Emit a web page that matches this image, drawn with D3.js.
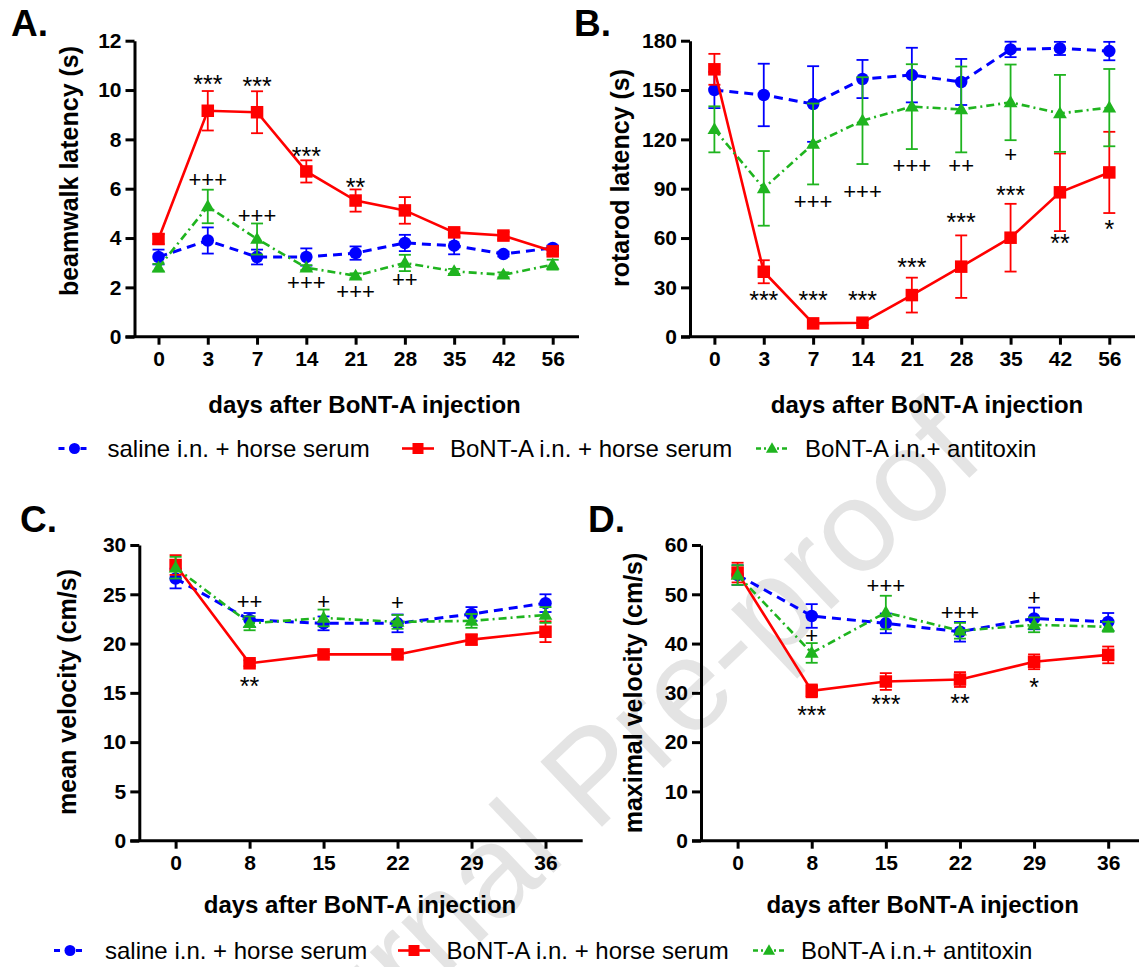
<!DOCTYPE html>
<html>
<head>
<meta charset="utf-8">
<script src="https://cdn.jsdelivr.net/npm/d3@7"></script>
<style>
  html, body { margin: 0; padding: 0; background: #ffffff; }
  svg { display: block; }
</style>
</head>
<body>
<div id="chart"></div>
<script>
// ---------------- DATA ----------------
const daysAB = ["0", "3", "7", "14", "21", "28", "35", "42", "56"];
const daysCD = ["0", "8", "15", "22", "29", "36"];
const seriesNames = ["saline i.n. + horse serum", "BoNT-A i.n. + horse serum", "BoNT-A i.n.+ antitoxin"];

// A. beamwalk latency (s)
const beamSaline    = [3.23, 3.9, 3.23, 3.23, 3.39, 3.8, 3.69, 3.35, 3.6];
const beamSalineErr = [0.3, 0.53, 0.3, 0.35, 0.27, 0.33, 0.35, 0.1, 0.1];
const beamBoNT      = [3.96, 9.16, 9.1, 6.7, 5.52, 5.12, 4.23, 4.1, 3.46];
const beamBoNTErr   = [0.2, 0.8, 0.85, 0.45, 0.45, 0.54, 0.15, 0.15, 0.1];
const beamAnti      = [2.8, 5.28, 3.96, 2.8, 2.47, 2.99, 2.65, 2.51, 2.92];
const beamAntiErr   = [0.15, 0.68, 0.63, 0.1, 0.1, 0.33, 0.1, 0.1, 0.2];

// B. rotarod latency (s)
const rotaSaline    = [150, 147, 141.5, 156.7, 159.1, 154.9, 174.7, 175.3, 173.7];
const rotaSalineErr = [11, 19, 23, 11.6, 16.6, 14, 4.7, 4, 5.6];
const rotaBoNT      = [162.6, 39.5, 8.1, 8.5, 25.3, 42.6, 60.2, 87.8, 99.9];
const rotaBoNTErr   = [9.4, 7, 1.5, 1.5, 10.6, 19, 20.6, 23.6, 24.7];
const rotaAnti      = [126.1, 90.2, 117.2, 131.4, 139.9, 138.2, 142.5, 135.8, 139.3];
const rotaAntiErr   = [14, 22.7, 24.6, 26.4, 25.8, 26.1, 23, 23.4, 23.5];

// C. mean velocity (cm/s)
const meanSaline    = [26.6, 22.4, 22.05, 22.05, 23.0, 24.1];
const meanSalineErr = [1.0, 0.7, 0.7, 0.9, 0.7, 0.9];
const meanBoNT      = [27.97, 18.0, 18.9, 18.9, 20.4, 21.2];
const meanBoNTErr   = [1.0, 0.3, 0.3, 0.3, 0.5, 1.05];
const meanAnti      = [27.7, 22.05, 22.6, 22.2, 22.3, 22.9];
const meanAntiErr   = [1.1, 0.7, 0.85, 0.7, 0.7, 0.8];

// D. maximal velocity (cm/s)
const maxSaline     = [53.9, 45.6, 44.1, 42.4, 45.1, 44.4];
const maxSalineErr  = [2, 2.4, 2, 2, 2.2, 1.8];
const maxBoNT       = [54.4, 30.4, 32.3, 32.7, 36.3, 37.7];
const maxBoNTErr    = [2, 1.3, 1.7, 1.5, 1.5, 1.7];
const maxAnti       = [53.9, 38.1, 46.3, 42.6, 43.8, 43.4];
const maxAntiErr    = [2, 2, 3.4, 1.6, 1.5, 1];

// tick labels
const yTicksA = [0, 2, 4, 6, 8, 10, 12];
const yTicksB = [0, 30, 60, 90, 120, 150, 180];
const yTicksC = [0, 5, 10, 15, 20, 25, 30];
const yTicksD = [0, 10, 20, 30, 40, 50, 60];

// significance marks: day, value (data units, visual centre), text
const marksA = [["3", 10.4, "***"], ["7", 10.32, "***"], ["14", 7.45, "***"], ["21", 6.23, "**"],
                ["3", 6.39, "+++"], ["7", 4.93, "+++"], ["14", 2.18, "+++"], ["21", 1.82, "+++"], ["28", 2.3, "++"]];
const marksB = [["3", 24.3, "***"], ["7", 24.3, "***"], ["14", 24.3, "***"], ["21", 44.6, "***"],
                ["28", 72, "***"], ["35", 88.2, "***"], ["42", 59.2, "**"], ["56", 67.9, "*"],
                ["7", 82.5, "+++"], ["14", 88.6, "+++"], ["21", 104, "+++"], ["28", 104, "++"], ["35", 110.5, "+"]];
const marksC = [["8", 24.3, "++"], ["15", 24.3, "+"], ["22", 24.15, "+"], ["8", 16.1, "**"]];
const marksD = [["15", 51.7, "+++"], ["22", 46.3, "+++"], ["29", 49.4, "+"], ["8", 41.6, "+"],
                ["8", 26.2, "***"], ["15", 28.4, "***"], ["22", 28.7, "**"], ["29", 31.9, "*"]];

// ---------------- STYLE / LAYOUT ----------------
const FONT = "'Liberation Sans', Arial, Helvetica, sans-serif";
const COLORS = ["#0000ff", "#ff0000", "#1fb41f"];
const DASH = ["9,6", null, "8,4,2,4"];
const LW = [3, 2.6, 2.6];
const SHAPES = ["circle", "square", "triangle"];

const W = 1139, H = 967;
const svg = d3.select("#chart").append("svg")
  .attr("width", W).attr("height", H)
  .attr("viewBox", `0 0 ${W} ${H}`);
svg.append("rect").attr("width", W).attr("height", H).attr("fill", "#fff");

// watermark (behind)
svg.append("text")
  .attr("transform", "translate(592,774) rotate(-43.5)")
  .attr("text-anchor", "middle")
  .attr("dominant-baseline", "central")
  .attr("font-family", FONT)
  .attr("font-size", 130)
  .attr("fill", "#e4e4e4")
  .text("Journal Pre-proof");

const panels = [
  { letter: "A.", lx: 11, ly: 36, days: daysAB, ticks: yTicksA, ymax: 12,
    vals: [beamSaline, beamBoNT, beamAnti], errs: [beamSalineErr, beamBoNTErr, beamAntiErr], marks: marksA,
    yAxisX: 134.5, xFirst: 158.5, xLast: 552.7, xEnd: 579, yTop: 40.7, yBot: 336.7,
    yTitle: "beamwalk latency (s)", ytx: 71, yty: 171, xtx: 364.5, xty: 413 },
  { letter: "B.", lx: 574, ly: 36, days: daysAB, ticks: yTicksB, ymax: 180,
    vals: [rotaSaline, rotaBoNT, rotaAnti], errs: [rotaSalineErr, rotaBoNTErr, rotaAntiErr], marks: marksB,
    yAxisX: 690, xFirst: 714.4, xLast: 1109.3, xEnd: 1135, yTop: 40.7, yBot: 336.7,
    yTitle: "rotarod latency (s)", ytx: 622.7, yty: 178, xtx: 927, xty: 413 },
  { letter: "C.", lx: 20, ly: 532, days: daysCD, ticks: yTicksC, ymax: 30,
    vals: [meanSaline, meanBoNT, meanAnti], errs: [meanSalineErr, meanBoNTErr, meanAntiErr], marks: marksC,
    yAxisX: 139.3, xFirst: 175.6, xLast: 545.5, xEnd: 582.7, yTop: 545, yBot: 840.7,
    yTitle: "mean velocity (cm/s)", ytx: 69, yty: 692, xtx: 360, xty: 913 },
  { letter: "D.", lx: 588, ly: 532, days: daysCD, ticks: yTicksD, ymax: 60,
    vals: [maxSaline, maxBoNT, maxAnti], errs: [maxSalineErr, maxBoNTErr, maxAntiErr], marks: marksD,
    yAxisX: 701, xFirst: 737.6, xLast: 1108.2, xEnd: 1145, yTop: 545, yBot: 840.7,
    yTitle: "maximal velocity (cm/s)", ytx: 635.5, yty: 693, xtx: 922.7, xty: 913 }
];

function drawMarker(g, shape, x, y, color, size) {
  if (shape === "circle") {
    g.append("circle").attr("cx", x).attr("cy", y).attr("r", size / 2).attr("fill", color);
  } else if (shape === "square") {
    g.append("rect").attr("x", x - size / 2).attr("y", y - size / 2)
      .attr("width", size).attr("height", size).attr("fill", color);
  } else {
    const s = size * 1.1, h = s * Math.sqrt(3) / 2;
    g.append("path")
      .attr("d", `M${x},${y - h * 0.6}L${x + s / 2},${y + h * 0.4}L${x - s / 2},${y + h * 0.4}Z`)
      .attr("fill", color);
  }
}

panels.forEach(p => {
  const g = svg.append("g");
  const x = d3.scalePoint().domain(p.days).range([p.xFirst, p.xLast]);
  const y = d3.scaleLinear().domain([0, p.ymax]).range([p.yBot, p.yTop]);

  // y axis
  const ya = g.append("g").attr("transform", `translate(${p.yAxisX},0)`)
    .call(d3.axisLeft(y).tickValues(p.ticks).tickSize(9).tickSizeOuter(0).tickPadding(4));
  ya.select(".domain").attr("stroke", "#000").attr("stroke-width", 3);
  ya.selectAll(".tick line").attr("stroke", "#000").attr("stroke-width", 3);
  ya.selectAll(".tick text").attr("font-family", FONT).attr("font-size", 21)
    .attr("font-weight", "bold").attr("fill", "#000");

  // x axis
  const xa = g.append("g").attr("transform", `translate(0,${p.yBot})`)
    .call(d3.axisBottom(x).tickSize(8).tickSizeOuter(0).tickPadding(6));
  xa.select(".domain").remove();
  xa.selectAll(".tick line").attr("stroke", "#000").attr("stroke-width", 3);
  xa.selectAll(".tick text").attr("font-family", FONT).attr("font-size", 21)
    .attr("font-weight", "bold").attr("fill", "#000");
  g.append("line").attr("x1", p.yAxisX - 9).attr("x2", p.xEnd)
    .attr("y1", p.yBot).attr("y2", p.yBot).attr("stroke", "#000").attr("stroke-width", 3);

  // titles
  g.append("text").attr("x", p.lx).attr("y", p.ly).text(p.letter)
    .attr("font-family", FONT).attr("font-weight", "bold").attr("font-size", 37).attr("fill", "#000");
  g.append("text").attr("transform", `translate(${p.ytx + 6.5},${p.yty}) rotate(-90)`)
    .attr("text-anchor", "middle").text(p.yTitle)
    .attr("font-family", FONT).attr("font-weight", "bold").attr("font-size", 25).attr("fill", "#000");
  g.append("text").attr("x", p.xtx).attr("y", p.xty).attr("text-anchor", "middle")
    .text("days after BoNT-A injection")
    .attr("font-family", FONT).attr("font-weight", "bold").attr("font-size", 24).attr("fill", "#000");

  // series
  p.vals.forEach((vals, si) => {
    const col = COLORS[si];
    const sg = g.append("g");
    const line = d3.line().x((d, i) => x(p.days[i])).y(d => y(d));
    sg.append("path").attr("d", line(vals)).attr("fill", "none")
      .attr("stroke", col).attr("stroke-width", LW[si])
      .attr("stroke-dasharray", DASH[si]);
    vals.forEach((v, i) => {
      const cx = x(p.days[i]), e = p.errs[si][i];
      const y1 = y(v + e), y2 = y(v - e);
      sg.append("line").attr("x1", cx).attr("x2", cx).attr("y1", y1).attr("y2", y2)
        .attr("stroke", col).attr("stroke-width", 1.8);
      [y1, y2].forEach(yy => sg.append("line").attr("x1", cx - 6).attr("x2", cx + 6)
        .attr("y1", yy).attr("y2", yy).attr("stroke", col).attr("stroke-width", 1.8));
      drawMarker(sg, SHAPES[si], cx, y(v), col, 12.5);
    });
  });

  // significance marks
  p.marks.forEach(m => {
    const star = m[2].includes("*");
    g.append("text").attr("x", x(m[0])).attr("y", y(m[1]) + (star ? 12.5 : 7.5))
      .attr("text-anchor", "middle").text(m[2])
      .attr("font-family", FONT).attr("font-size", star ? 25 : 22).attr("fill", "#000");
  });
});

// legends
const legendRows = [
  { base: 457, mx: [74.5, 418, 772], tx: [107.5, 450, 805] },
  { base: 959, mx: [70, 414, 769], tx: [105, 446.6, 801] }
];
legendRows.forEach(r => {
  const g = svg.append("g");
  const cy = r.base - 8.5;
  seriesNames.forEach((name, si) => {
    g.append("line").attr("x1", r.mx[si] - 16).attr("x2", r.mx[si] + 16)
      .attr("y1", cy).attr("y2", cy).attr("stroke", COLORS[si]).attr("stroke-width", LW[si])
      .attr("stroke-dasharray", si === 0 ? "6,5" : (si === 2 ? "5,3,2,3" : null));
    drawMarker(g, SHAPES[si], r.mx[si], cy, COLORS[si], 11);
    g.append("text").attr("x", r.tx[si]).attr("y", r.base).text(name)
      .attr("font-family", FONT).attr("font-size", 24).attr("fill", "#000");
  });
});
</script>
</body>
</html>
